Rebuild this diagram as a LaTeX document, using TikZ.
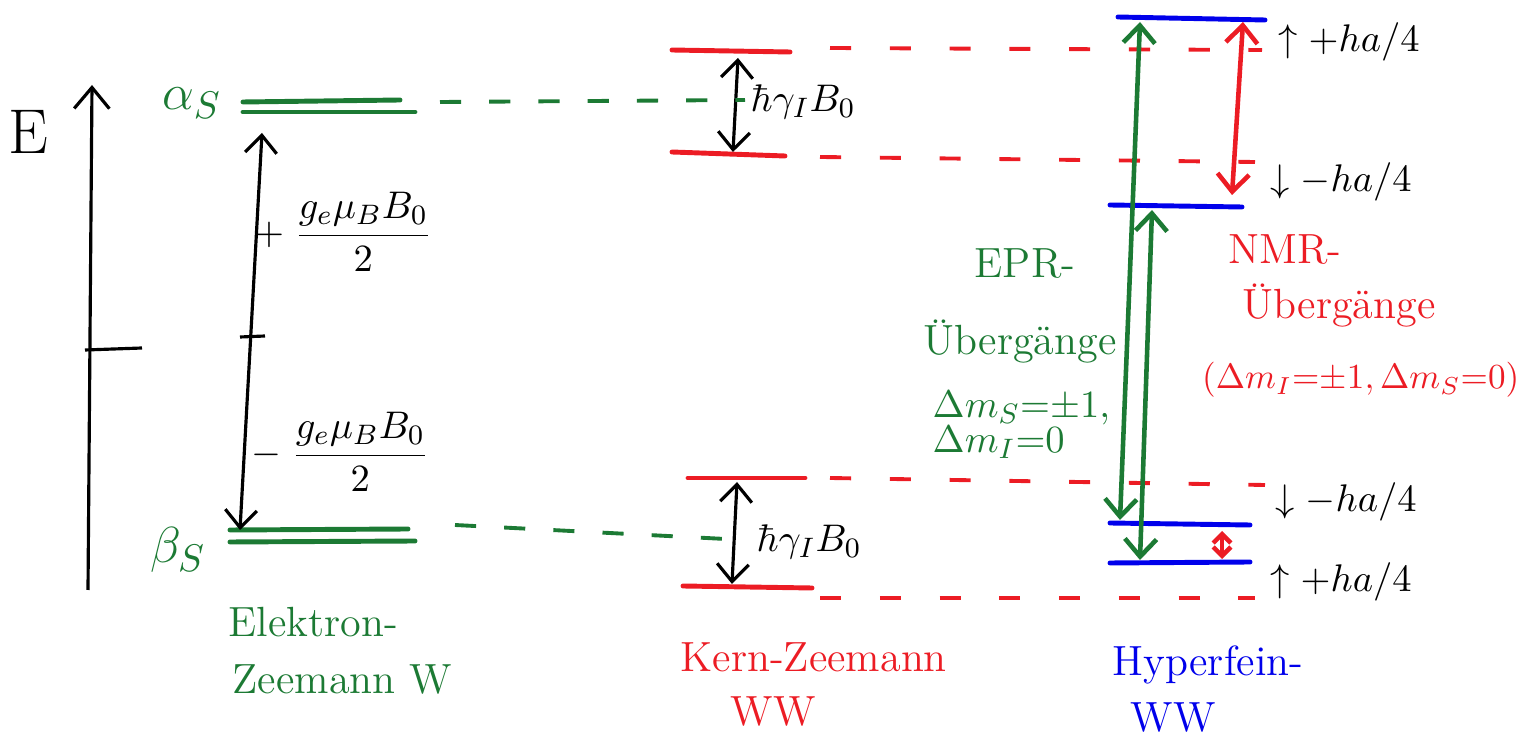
\documentclass[tikz,border=0pt]{standalone}
\usepackage{amsmath}
\usetikzlibrary{arrows.meta}
\definecolor{hgreen}{RGB}{28,122,52}
\definecolor{hred}{RGB}{236,28,36}
\definecolor{hblue}{RGB}{0,0,235}
\tikzset{
  level/.style={line width=1.4pt, line cap=round},
  link/.style={line width=1.1pt, dash pattern=on 6pt off 8pt},
  gap/.style={line width=0.9pt, {Straight Barb[length=5pt, width=9pt]}-{Straight Barb[length=5pt, width=9pt]}},
  txt/.style={inner sep=0pt, font=\fontsize{11}{13}\selectfont},
  head/.style={inner sep=0pt, font=\fontsize{12}{14}\selectfont},
}
\begin{document}
\begin{tikzpicture}[x=0.01cm, y=-0.01cm]
\useasboundingbox (0,0) rectangle (1526,743);
% energy axis
\coordinate (E0) at (88,590);
\coordinate (E1) at (92,85);
\coordinate (T0) at (85,350);
\coordinate (T1) at (142,348);
% electron Zeeman levels
\coordinate (A1) at (243,102);
\coordinate (A2) at (400,100);
\coordinate (A3) at (243,112);
\coordinate (A4) at (415,112);
\coordinate (B1) at (230,530);
\coordinate (B2) at (408,529);
\coordinate (B3) at (230,542);
\coordinate (B4) at (415,541);
% nuclear Zeeman levels
\coordinate (K1) at (672,50);
\coordinate (K2) at (790,52);
\coordinate (K3) at (672,152);
\coordinate (K4) at (785,156);
\coordinate (K5) at (688,478);
\coordinate (K6) at (805,478);
\coordinate (K7) at (683,586);
\coordinate (K8) at (812,588);
% hyperfine levels
\coordinate (H1) at (1118,17);
\coordinate (H2) at (1265,20);
\coordinate (H3) at (1110,205);
\coordinate (H4) at (1242,207);
\coordinate (H5) at (1110,523);
\coordinate (H6) at (1250,525);
\coordinate (H7) at (1110,563);
\coordinate (H8) at (1250,562);

\draw[line width=0.9pt, -{Straight Barb[length=6pt, width=10pt]}] (E0) -- (E1);
\draw[line width=0.9pt] (T0) -- (T1);
\node[inner sep=0pt, font=\fontsize{18}{20}\selectfont] (E) at (28,132) {E};

\draw[level, hgreen] (A1) -- (A2);
\draw[level, hgreen] (A3) -- (A4);
\draw[level, hgreen] (B1) -- (B2);
\draw[level, hgreen] (B3) -- (B4);
\node[inner sep=0pt, hgreen, font=\fontsize{15}{17}\selectfont] (alpha) at (192,103) {$\alpha_S$};
\node[inner sep=0pt, hgreen, font=\fontsize{15}{17}\selectfont] (beta) at (178,550) {$\beta_S$};

% splitting of the electron levels
\coordinate (S0) at (262,133);
\coordinate (S1) at (240,530);
\coordinate (S2) at (240,337);
\coordinate (S3) at (265,336);
\draw[gap] (S1) -- (S0);
\draw[line width=0.9pt] (S2) -- (S3);
\node[txt] (plus) at (343,232) {$+\;\dfrac{g_e\mu_B B_0}{2}$};
\node[txt] (minus) at (340,452) {$-\;\dfrac{g_e\mu_B B_0}{2}$};

\draw[level, hred] (K1) -- (K2);
\draw[level, hred] (K3) -- (K4);
\draw[level, hred] (K5) -- (K6);
\draw[level, hred] (K7) -- (K8);
\coordinate (N0) at (738,58);
\coordinate (N1) at (733,152);
\coordinate (N2) at (737,482);
\coordinate (N3) at (732,584);
\draw[gap] (N0) -- (N1);
\draw[gap] (N2) -- (N3);
\node[txt, anchor=west] (gI1) at (750,102) {$\hbar\gamma_I B_0$};
\node[txt, anchor=west] (gI2) at (756,542) {$\hbar\gamma_I B_0$};

% dashed links
\coordinate (L1) at (440,102);
\coordinate (L2) at (745,100);
\coordinate (L3) at (455,525);
\coordinate (L4) at (745,540);
\draw[link, hgreen] (L1) -- (L2);
\draw[link, hgreen] (L3) -- (L4);
\coordinate (R1) at (830,48);
\coordinate (R2) at (1262,50);
\coordinate (R3) at (820,157);
\coordinate (R4) at (1255,162);
\coordinate (R5) at (830,478);
\coordinate (R6) at (1265,485);
\coordinate (R7) at (820,598);
\coordinate (R8) at (1255,598);
\draw[link, hred, dash pattern=on 6pt off 11pt] (R1) -- (R2);
\draw[link, hred, dash pattern=on 6pt off 11pt] (R3) -- (R4);
\draw[link, hred, dash pattern=on 6pt off 11pt] (R5) -- (R6);
\draw[link, hred, dash pattern=on 6pt off 11pt] (R7) -- (R8);

\draw[level, hblue] (H1) -- (H2);
\draw[level, hblue] (H3) -- (H4);
\draw[level, hblue] (H5) -- (H6);
\draw[level, hblue] (H7) -- (H8);

% transitions
\coordinate (G0) at (1140,22);
\coordinate (G1) at (1120,520);
\coordinate (G2) at (1152,210);
\coordinate (G3) at (1140,560);
\coordinate (M0) at (1243,22);
\coordinate (M1) at (1232,195);
\coordinate (M2) at (1222,531);
\coordinate (M3) at (1222,559);
\draw[gap, hgreen, line width=1.3pt] (G0) -- (G1);
\draw[gap, hgreen, line width=1.3pt] (G2) -- (G3);
\draw[gap, hred, line width=1.3pt] (M0) -- (M1);
\draw[hred, line width=1.3pt, {Straight Barb[length=2.5pt, width=5pt]}-{Straight Barb[length=2.5pt, width=5pt]}] (M2) -- (M3);

\node[txt, anchor=west] (m1) at (1278,42) {$\uparrow{+}ha/4$};
\node[txt, anchor=west] (m2) at (1270,182) {$\downarrow{-}ha/4$};
\node[txt, anchor=west] (m3) at (1275,502) {$\downarrow{-}ha/4$};
\node[txt, anchor=west] (m4) at (1270,582) {$\uparrow{+}ha/4$};

\node[head, hgreen] (epr1) at (1025,264) {EPR-};
\node[head, hgreen] (epr2) at (1020,342) {Übergänge};
\node[txt, hgreen, anchor=west] (epr3) at (932,408) {$\Delta m_S{=}{\pm}1,$};
\node[txt, hgreen, anchor=west] (epr4) at (932,442) {$\Delta m_I{=}0$};

\node[head, hred, anchor=west] (nmr1) at (1228,250) {NMR-};
\node[head, hred, anchor=west] (nmr2) at (1242,306) {Übergänge};
\node[txt, hred, anchor=east, font=\fontsize{10}{12}\selectfont] (nmr3) at (1520,380) {$(\Delta m_I{=}{\pm}1, \Delta m_S{=}0)$};

\node[head, hgreen, anchor=west] (el1) at (228,622) {Elektron-};
\node[head, hgreen, anchor=west] (el2) at (232,680) {Zeemann W};
\node[head, hred, anchor=west] (kz1) at (680,657) {Kern-Zeemann};
\node[head, hred, anchor=west] (kz2) at (730,712) {WW};
\node[head, hblue, anchor=west] (hf1) at (1112,665) {Hyperfein-};
\node[head, hblue, anchor=west] (hf2) at (1130,718) {WW};
\end{tikzpicture}
\end{document}
